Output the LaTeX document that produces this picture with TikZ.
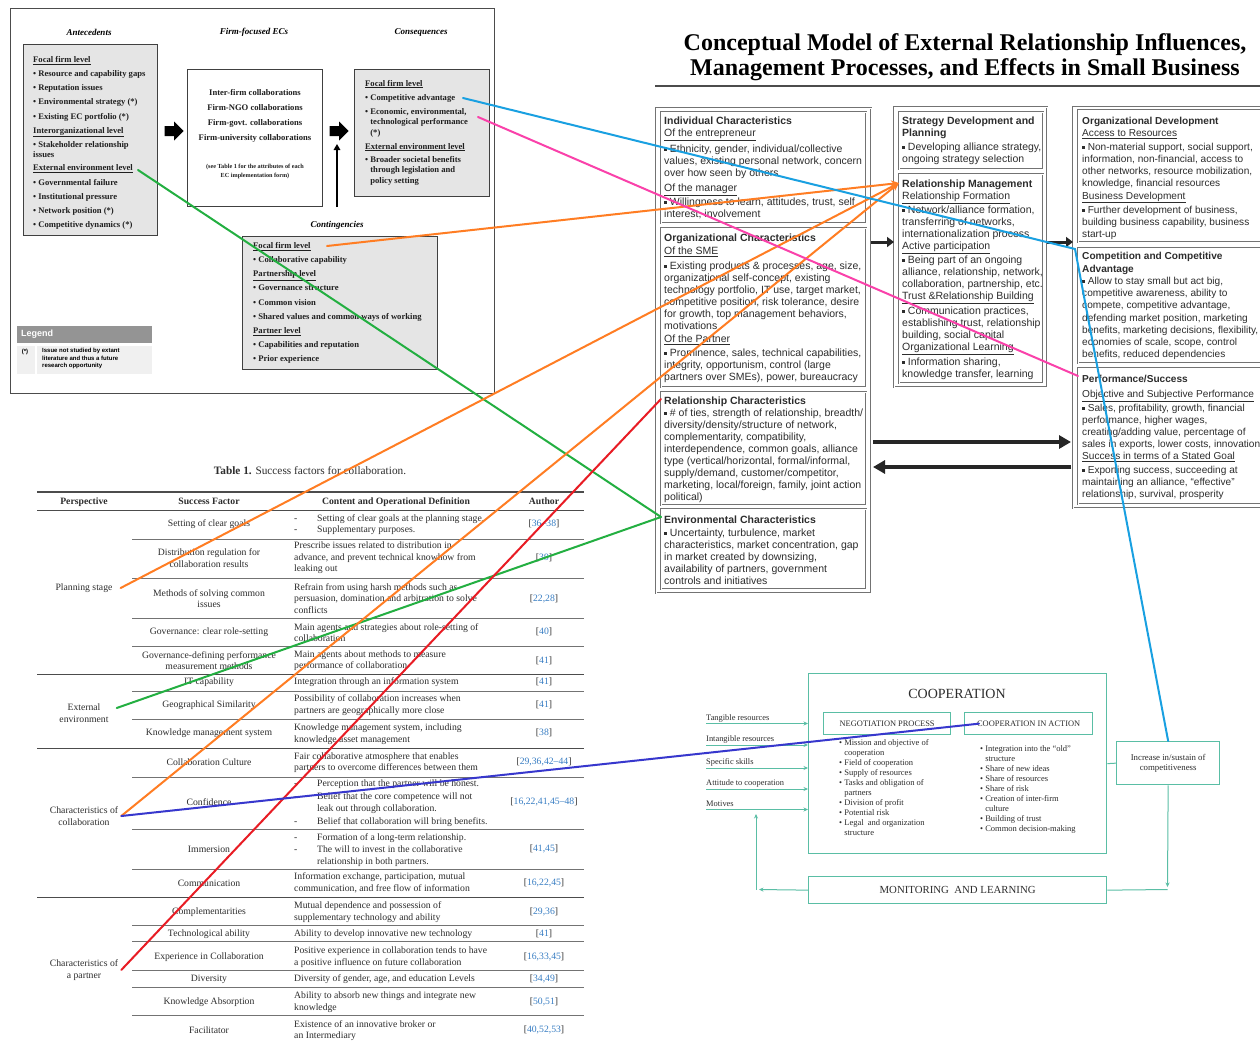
\documentclass[tikz,border=0pt]{standalone}
\usepackage{fontspec}
\setmainfont{Liberation Serif}
\newfontfamily\arialf{Liberation Sans}
\usetikzlibrary{arrows.meta}

\definecolor{boxgray}{RGB}{229,229,229}
\definecolor{inkgray}{RGB}{45,45,45}
\definecolor{refblue}{RGB}{55,125,195}
\definecolor{coopteal}{RGB}{90,190,165}
\definecolor{lnblue}{RGB}{25,160,225}
\definecolor{lnpink}{RGB}{250,65,170}
\definecolor{lnorange}{RGB}{255,125,35}
\definecolor{lngreen}{RGB}{35,175,65}
\definecolor{lnred}{RGB}{232,28,36}
\definecolor{lnnavy}{RGB}{55,55,205}

\newcommand{\sqb}{\rule[1.4pt]{2.8pt}{2.8pt}\ }
\newcommand{\hng}{\phantom{\textbullet\ }}
\newcommand{\dsh}{\makebox[23pt][l]{-}}
\newcommand{\rf}[1]{[\textcolor{refblue}{#1}]}

\tikzset{
  gbox/.style={draw=black!75, line width=0.8pt, fill=boxgray, anchor=north west, inner sep=0pt},
  wbox/.style={draw=black!75, line width=0.8pt, fill=white, anchor=north west, inner sep=0pt},
  hd/.style={inner sep=0pt, font=\fontsize{9}{10}\selectfont\bfseries\itshape},
  lftxt/.style={anchor=north west, inner sep=0pt, align=left, text=black!88, font=\fontsize{8.6}{14.2}\selectfont\bfseries},
  fatarrow/.pic={\fill[black] (-9.5,-5) -- (0,-5) -- (0,-9.5) -- (9.5,0) -- (0,9.5) -- (0,5) -- (-9.5,5) -- cycle;},
  colp/.style={draw=black!55, double, double distance=0.8pt, line width=0.5pt, anchor=north west, inner sep=0pt},
  ptxt/.style={anchor=north west, inner sep=0pt, align=left, text=inkgray, font=\arialf\fontsize{10.5}{12}\selectfont},
  ptxtr/.style={ptxt, font=\arialf\fontsize{10.1}{12}\selectfont},
  blkline/.style={line width=3pt, black!85, -{Triangle[length=7pt, width=10pt]}},
  bigline/.style={line width=3.5pt, black!85, -{Triangle[length=12pt, width=13pt]}},
  tfont/.style={inner sep=0pt, text=inkgray, font=\fontsize{9.7}{11.5}\selectfont},
  tfac/.style={tfont, align=center},
  tcon/.style={tfont, align=left, anchor=west},
  tbrule/.style={draw=black!70, line width=0.9pt},
  subrule/.style={draw=black!55, line width=0.6pt},
  tealbox/.style={draw=coopteal, line width=1.3pt, anchor=north west, inner sep=0pt, text=inkgray},
  tealline/.style={draw=coopteal, line width=1pt},
  tealarr/.style={tealline, -{Stealth[length=4.5pt, width=4pt]}},
  coopl/.style={anchor=north west, inner sep=0pt, align=left, text=inkgray, font=\fontsize{8.5}{10}\selectfont},
  inp/.style={anchor=base west, inner sep=0pt, text=inkgray, font=\fontsize{8.4}{10}\selectfont},
  conn/.style={line width=2pt, line cap=round},
  tipo/.style={-{Stealth[length=8pt, width=7pt]}}
}

\begin{document}
\begin{tikzpicture}[x=1pt, y=-1pt]
\useasboundingbox (0,0) rectangle (1260,1041);
\fill[white] (0,0) rectangle (1260,1041);

\draw[black!70, line width=0.8pt] (10,8) rectangle (494,393);
\node[hd] (hAnte) at (89,32) {Antecedents};
\node[hd] (hFirm) at (254,32) {Firm-focused ECs};
\node[hd] (hCons) at (421,32) {Consequences};
\node[hd] (hCont) at (337,225) {Contingencies};

\node[gbox, minimum width=134, minimum height=191] (ante) at (23,44) {};
\node[lftxt] (anteT) at (33,52.1) {\strut\underline{Focal firm level}\\
\textbullet\ Resource and capability gaps\\
\textbullet\ Reputation issues\\
\textbullet\ Environmental strategy (*)\\
\textbullet\ Existing EC portfolio (*)\\
\underline{Interorganizational level}\\
\textbullet\ Stakeholder relationship\\[-4pt]
issues\\[-1pt]
\underline{External environment level}\\
\textbullet\ Governmental failure\\
\textbullet\ Institutional pressure\\
\textbullet\ Network position (*)\\
\textbullet\ Competitive dynamics (*)};

\pic (arrA) at (174,131) {fatarrow};
\node[wbox, minimum width=135, minimum height=137] (firm) at (187,69) {};
\node[inner sep=0pt, align=center, text=black!88, font=\fontsize{8.6}{15}\selectfont\bfseries] (firmT) at (255,116) {Inter-firm collaborations\\Firm-NGO collaborations\\Firm-govt. collaborations\\Firm-university collaborations};
\node[inner sep=0pt, align=center, text=black!88, font=\fontsize{6.2}{9}\selectfont\bfseries] (firmN) at (255,171.5) {(see Table 1 for the attributes of each\\EC implementation form)};
\pic (arrB) at (339,131) {fatarrow};
\draw[line width=1.8pt, -{Triangle[length=6pt, width=6.5pt]}] (337,207) -- (337,144);

\node[gbox, minimum width=135, minimum height=127] (cons) at (354,69) {};
\node[lftxt, font=\fontsize{8.6}{10.5}\selectfont\bfseries] (consT) at (365,78.6) {\strut\underline{Focal firm level}\\[3.5pt]
\textbullet\ Competitive advantage\\[3.5pt]
\textbullet\ Economic, environmental,\\
\hng technological performance\\
\hng(*)\\[3.5pt]
\underline{External environment level}\\[2.5pt]
\textbullet\ Broader societal benefits\\
\hng through legislation and\\
\hng policy setting};

\node[gbox, minimum width=195, minimum height=133] (cont) at (242,236) {};
\node[lftxt] (contT) at (253,238.1) {\strut\underline{Focal firm level}\\
\textbullet\ Collaborative capability\\
\underline{Partnership level}\\
\textbullet\ Governance structure\\
\textbullet\ Common vision\\
\textbullet\ Shared values and common ways of working\\
\underline{Partner level}\\
\textbullet\ Capabilities and reputation\\
\textbullet\ Prior experience};

\node[fill=black!42, minimum width=135, minimum height=17, anchor=north west, inner sep=0pt] (legHd) at (17,326) {};
\node[anchor=west, inner sep=0pt, text=white, font=\arialf\fontsize{9}{10}\selectfont\bfseries] (legT) at (21,334.5) {Legend};
\node[fill=black!6, minimum width=18, minimum height=28, anchor=north west, inner sep=0pt] (legKey) at (17,346) {};
\node[fill=black!6, minimum width=115, minimum height=28, anchor=north west, inner sep=0pt] (legNote) at (37,346) {};
\node[inner sep=0pt, font=\arialf\fontsize{6}{7}\selectfont\bfseries] (legStar) at (25,352) {(*)};
\node[anchor=north west, inner sep=0pt, align=left, font=\arialf\fontsize{6}{7.7}\selectfont\bfseries] (legTx) at (42,348) {Issue not studied by extant\\literature and thus a future\\research opportunity};

\node[anchor=base, inner sep=0pt, font=\fontsize{24}{26}\selectfont\bfseries] (ttl1) at (965,51) {Conceptual Model of External Relationship Influences,};
\node[anchor=base, inner sep=0pt, font=\fontsize{24}{26}\selectfont\bfseries] (ttl2) at (965,75) {Management Processes, and Effects in Small Business};
\draw[black!70, line width=2pt] (655,86) -- (1260,86);

\node[colp, minimum width=215, minimum height=485] (colA) at (656,108) {};
\node[colp, minimum width=205, minimum height=111] (indBox) at (661,112) {};
\node[colp, minimum width=205, minimum height=159] (orgBox) at (661,228) {};
\node[colp, minimum width=205, minimum height=113] (relBox) at (661,392) {};
\node[colp, minimum width=205, minimum height=80] (envBox) at (661,509) {};
\node[colp, minimum width=153, minimum height=280] (colB) at (894,107) {};
\node[colp, minimum width=144, minimum height=57] (stratBox) at (899,112) {};
\node[colp, minimum width=144, minimum height=209] (rmBox) at (899,174) {};
\node[colp, minimum width=200, minimum height=401] (colC) at (1073,107) {};
\node[colp, minimum width=195, minimum height=132] (odBox) at (1078,110) {};
\node[colp, minimum width=195, minimum height=115] (compBox) at (1078,248) {};
\node[colp, minimum width=195, minimum height=136] (perfBox) at (1078,368) {};

\node[ptxt] (indT) at (664,115.6) {\strut\textbf{Individual Characteristics}\\
\underline{Of the entrepreneur}\\[4pt]
\sqb Ethnicity, gender, individual/collective\\
values, existing personal network, concern\\
over how seen by others\\[3pt]
\underline{Of the manager}\\[2pt]
\sqb Willingness to learn, attitudes, trust, self\\
interest, involvement};
\node[ptxt] (orgT) at (664,232.6) {\strut\textbf{Organizational Characteristics}\\[1pt]
\underline{Of the SME}\\[3pt]
\sqb Existing products \& processes, age, size,\\
organizational self-concept, existing\\
technology portfolio, IT use, target market,\\
competitive position, risk tolerance, desire\\
for growth, top management behaviors,\\
motivations\\[1pt]
\underline{Of the Partner}\\[2pt]
\sqb Prominence, sales, technical capabilities,\\
integrity, opportunism, control (large\\
partners over SMEs), power, bureaucracy};
\node[ptxt] (relT) at (664,395.6) {\strut\textbf{Relationship Characteristics}\\
\sqb \# of ties, strength of relationship, breadth/\\
diversity/density/structure of network,\\
complementarity, compatibility,\\
interdependence, common goals, alliance\\
type (vertical/horizontal, formal/informal,\\
supply/demand, customer/competitor,\\
marketing, local/foreign, family, joint action\\
political)};
\node[ptxt] (envT) at (664,514.6) {\strut\textbf{Environmental Characteristics}\\[1pt]
\sqb Uncertainty, turbulence, market\\
characteristics, market concentration, gap\\
in market created by downsizing,\\
availability of partners, government\\
controls and initiatives};
\node[ptxt] (stratT) at (902,115.6) {\strut\textbf{Strategy Development and}\\
\textbf{Planning}\\[2pt]
\sqb Developing alliance strategy,\\
ongoing strategy selection};
\node[ptxt] (rmT) at (902,178.6) {\strut\textbf{Relationship Management}\\
\underline{Relationship Formation}\\[2pt]
\sqb Network/alliance formation,\\
transferring of networks,\\
internationalization process\\
\underline{Active participation}\\[2pt]
\sqb Being part of an ongoing\\
alliance, relationship, network,\\
collaboration, partnership, etc.\\
\underline{Trust \&Relationship Building}\\[3pt]
\sqb Communication practices,\\
establishing trust, relationship\\
building, social capital\\
\underline{Organizational Learning}\\[3pt]
\sqb Information sharing,\\
knowledge transfer, learning};
\node[ptxtr] (odT) at (1082,115.6) {\strut\textbf{Organizational Development}\\
\underline{Access to Resources}\\[2pt]
\sqb Non-material support, social support,\\
information, non-financial, access to\\
other networks, resource mobilization,\\
knowledge, financial resources\\[1pt]
\underline{Business Development}\\[2pt]
\sqb Further development of business,\\
building business capability, business\\
start-up};
\node[ptxtr] (compT) at (1082,250.6) {\strut\textbf{Competition and Competitive}\\[1pt]
\textbf{Advantage}\\
\sqb Allow to stay small but act big,\\
competitive awareness, ability to\\
compete, competitive advantage,\\[1pt]
defending market position, marketing\\
benefits, marketing decisions, flexibility,\\
economies of scale, scope, control\\
benefits, reduced dependencies};
\node[ptxtr] (perfT) at (1082,373.6) {\strut\textbf{Performance/Success}\\[3pt]
\underline{Objective and Subjective Performance}\\[2pt]
\sqb Sales, profitability, growth, financial\\
performance, higher wages,\\
creating/adding value, percentage of\\
sales in exports, lower costs, innovation\\
\underline{Success in terms of a Stated Goal}\\[2pt]
\sqb Exporting success, succeeding at\\
maintaining an alliance, “effective”\\
relationship, survival, prosperity};

\draw[blkline] (871,242) -- (894,242);
\draw[blkline] (1047,242) -- (1073,242);
\draw[bigline] (873,442) -- (1071,442);
\draw[bigline] (1071,467) -- (873,467);

\node[inner sep=0pt, text=inkgray, font=\fontsize{11.3}{13}\selectfont] (tabT) at (310,471) {\textbf{Table 1.} Success factors for collaboration.};
\draw[tbrule, line width=1.3pt] (37,492) -- (584,492);
\node[tfont, anchor=base, font=\fontsize{9.7}{11.5}\selectfont\bfseries] (hPer) at (84,504) {Perspective};
\node[tfont, anchor=base, font=\fontsize{9.7}{11.5}\selectfont\bfseries] (hFac) at (209,504) {Success Factor};
\node[tfont, anchor=base, font=\fontsize{9.7}{11.5}\selectfont\bfseries] (hCon) at (396,504) {Content and Operational Definition};
\node[tfont, anchor=base, font=\fontsize{9.7}{11.5}\selectfont\bfseries] (hAut) at (544,504) {Author};
\draw[tbrule] (37,510) -- (584,510);
\foreach \y in {674,748,897}
  \draw[tbrule] (37,\y) -- (584,\y);
\foreach \y in {539,578,618,646,691,719,777,829,869,925,941,970,987,1015}
  \draw[subrule] (132,\y) -- (584,\y);

\node[tfac] (pPlan) at (84,588) {Planning stage};
\node[tfac] (pExt) at (84,713) {External\\environment};
\node[tfac] (pCollab) at (84,816) {Characteristics of\\collaboration};
\node[tfac] (pPartner) at (84,970) {Characteristics of\\a partner};

\node[tfac] (fac1) at (209,524) {Setting of clear goals};
\node[tfac] (fac2) at (209,558) {Distribution regulation for\\collaboration results};
\node[tfac] (fac3) at (209,598.5) {Methods of solving common\\issues};
\node[tfac] (fac4) at (209,632) {Governance: clear role-setting};
\node[tfac] (fac5) at (209,660.5) {Governance-defining performance\\measurement methods};
\node[tfac] (fac6) at (209,682) {IT capability};
\node[tfac] (fac7) at (209,705) {Geographical Similarity};
\node[tfac] (fac8) at (209,733) {Knowledge management system};
\node[tfac] (fac9) at (209,762) {Collaboration Culture};
\node[tfac] (fac10) at (209,802) {Confidence};
\node[tfac] (fac11) at (209,849) {Immersion};
\node[tfac] (fac12) at (209,883) {Communication};
\node[tfac] (fac13) at (209,912) {Complementarities};
\node[tfac] (fac14) at (209,934) {Technological ability};
\node[tfac] (fac15) at (209,957) {Experience in Collaboration};
\node[tfac] (fac16) at (209,979) {Diversity};
\node[tfac] (fac17) at (209,1002) {Knowledge Absorption};
\node[tfac] (fac18) at (209,1030) {Facilitator};

\node[tfac] (aut1) at (544,524) {\rf{36–38}};
\node[tfac] (aut2) at (544,558) {\rf{39}};
\node[tfac] (aut3) at (544,598.5) {\rf{22,28}};
\node[tfac] (aut4) at (544,632) {\rf{40}};
\node[tfac] (aut5) at (544,660.5) {\rf{41}};
\node[tfac] (aut6) at (544,682) {\rf{41}};
\node[tfac] (aut7) at (544,705) {\rf{41}};
\node[tfac] (aut8) at (544,733) {\rf{38}};
\node[tfac] (aut9) at (544,762) {\rf{29,36,42–44}};
\node[tfac] (aut10) at (544,802) {\rf{16,22,41,45–48}};
\node[tfac] (aut11) at (544,849) {\rf{41,45}};
\node[tfac] (aut12) at (544,883) {\rf{16,22,45}};
\node[tfac] (aut13) at (544,912) {\rf{29,36}};
\node[tfac] (aut14) at (544,934) {\rf{41}};
\node[tfac] (aut15) at (544,957) {\rf{16,33,45}};
\node[tfac] (aut16) at (544,979) {\rf{34,49}};
\node[tfac] (aut17) at (544,1002) {\rf{50,51}};
\node[tfac] (aut18) at (544,1030) {\rf{40,52,53}};

\node[tcon] (con1) at (294,524.5) {\dsh Setting of clear goals at the planning stage.\\\dsh Supplementary purposes.};
\node[tcon] (con2) at (294,558) {Prescribe issues related to distribution in\\advance, and prevent technical knowhow from\\leaking out};
\node[tcon] (con3) at (294,598.5) {Refrain from using harsh methods such as\\persuasion, domination and arbitration to solve\\conflicts};
\node[tcon] (con4) at (294,632.5) {Main agents and strategies about role-setting of\\collaboration};
\node[tcon] (con5) at (294,660.5) {Main agents about methods to measure\\performance of collaboration};
\node[tcon] (con6) at (294,682) {Integration through an information system};
\node[tcon] (con7) at (294,705) {Possibility of collaboration increases when\\partners are geographically more close};
\node[tcon] (con8) at (294,734) {Knowledge management system, including\\knowledge asset management};
\node[tcon] (con9) at (294,762.5) {Fair collaborative atmosphere that enables\\partners to overcome differences between them};
\node[tcon] (con10) at (294,803) {\dsh Perception that the partner will be honest.\\[1pt]
\dsh Belief that the core competence will not\\[1pt]
\hspace*{23pt}leak out through collaboration.\\[1pt]
\dsh Belief that collaboration will bring benefits.};
\node[tcon] (con11) at (294,850) {\dsh Formation of a long-term relationship.\\[1pt]
\dsh The will to invest in the collaborative\\
\hspace*{23pt}relationship in both partners.};
\node[tcon] (con12) at (294,883) {Information exchange, participation, mutual\\communication, and free flow of information};
\node[tcon] (con13) at (294,912) {Mutual dependence and possession of\\supplementary technology and ability};
\node[tcon] (con14) at (294,934) {Ability to develop innovative new technology};
\node[tcon] (con15) at (294,957) {Positive experience in collaboration tends to have\\a positive influence on future collaboration};
\node[tcon] (con16) at (294,979) {Diversity of gender, age, and education Levels};
\node[tcon] (con17) at (294,1002) {Ability to absorb new things and integrate new\\knowledge};
\node[tcon] (con18) at (294,1030.5) {Existence of an innovative broker or\\an Intermediary};

\node[tealbox, minimum width=298, minimum height=180] (coopBox) at (808,673) {};
\node[inner sep=0pt, text=inkgray, font=\fontsize{14}{16}\selectfont] (coopT) at (957,694) {COOPERATION};
\node[tealbox, minimum width=127, minimum height=22, font=\fontsize{8.4}{9}\selectfont] (negBox) at (823,712) {NEGOTIATION PROCESS};
\node[tealbox, minimum width=128, minimum height=22, font=\fontsize{8.4}{9}\selectfont] (ciaBox) at (964,712) {COOPERATION IN ACTION};
\node[coopl] (negL) at (839,738.5) {\strut\textbullet\ Mission and objective of\\
\hng cooperation\\
\textbullet\ Field of cooperation\\
\textbullet\ Supply of resources\\
\textbullet\ Tasks and obligation of\\
\hng partners\\
\textbullet\ Division of profit\\
\textbullet\ Potential risk\\
\textbullet\ Legal \ and organization\\
\hng structure};
\node[coopl] (ciaL) at (980,744.5) {\strut\textbullet\ Integration into the “old”\\
\hng structure\\
\textbullet\ Share of new ideas\\
\textbullet\ Share of resources\\
\textbullet\ Share of risk\\
\textbullet\ Creation of inter-firm\\
\hng culture\\
\textbullet\ Building of trust\\
\textbullet\ Common decision-making};

\node[inp] (inTang) at (706,720.5) {Tangible resources};
\node[inp] (inIntang) at (706,741.5) {Intangible resources};
\node[inp] (inSkill) at (706,764.5) {Specific skills};
\node[inp] (inAtt) at (706,785.5) {Attitude to cooperation};
\node[inp] (inMot) at (706,806.5) {Motives};
\draw[tealarr] (706,723.5) -- (808,723.5);
\draw[tealarr] (706,745) -- (808,745);
\draw[tealarr] (706,768) -- (808,768);
\draw[tealarr] (706,789) -- (808,789);
\draw[tealarr] (706,809.5) -- (808,809.5);

\node[tealbox, minimum width=103, minimum height=43, align=center, font=\fontsize{8.8}{10.5}\selectfont] (incrBox) at (1116,741) {Increase in/sustain of\\competitiveness};
\node[tealbox, minimum width=298, minimum height=27, font=\fontsize{10.8}{12}\selectfont] (monBox) at (808,876) {MONITORING \ AND LEARNING};
\draw[tealline] (coopBox.east) -- (incrBox.west);
\draw[tealarr] (incrBox.south) -- (1167.5,887);
\draw[tealline] (monBox.east) -- (1167.5,889.5);
\draw[tealarr] (monBox.west) -- (759,889.5);
\draw[tealarr] (756,889.5) -- (756,814);

\coordinate (caEnd) at (463,98);
\coordinate (econEnd) at (478,117);
\coordinate (extEnd) at (138,170);
\coordinate (ctgEnd) at (327,246);
\coordinate (bendC) at (1075,249);

\draw[conn, lngreen] (extEnd) -- ([yshift=-8pt]envBox.north west);
\draw[conn, lngreen] ([xshift=8pt, yshift=5pt]pExt.east) -- ([yshift=-8pt]envBox.north west);
\draw[conn, lnred] ([xshift=3pt]pPartner.east) -- ([yshift=-7pt]relBox.north west);
\draw[conn, lnorange, tipo] (ctgEnd) -- ([yshift=-9pt]rmBox.north west);
\draw[conn, lnorange, tipo] ([xshift=8pt]pPlan.east) -- ([yshift=-9pt]rmBox.north west);
\draw[conn, lnorange, tipo] ([xshift=3pt]pCollab.east) -- ([yshift=-9pt]rmBox.north west);
\draw[conn, lnnavy] ([xshift=3pt]pCollab.east) -- ([xshift=15pt]ciaBox.west);
\draw[conn, lnpink] (econEnd) -- ([yshift=-8pt]perfBox.north west);
\draw[conn, lnblue] (caEnd) -- (bendC) -- (incrBox.north);
\end{tikzpicture}
\end{document}
